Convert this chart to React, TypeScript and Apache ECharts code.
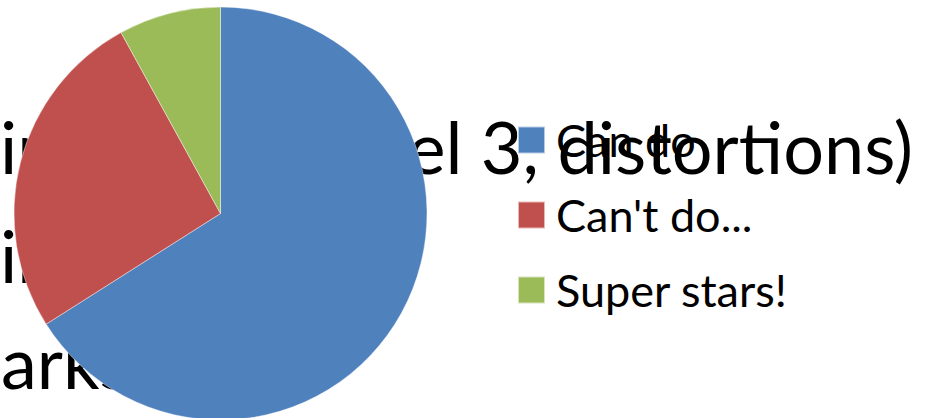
import React, { useEffect, useRef } from "react";
import * as echarts from "echarts";

const categories = ["Can do", "Can't do...", "Super stars!"];
const values = [66, 26, 8];
const colors = ["#4F81BD", "#C0504D", "#9BBB59"];
const backgroundLines = ["ir", "ir", "arks"];
const titleTail = "(level 3, distortions)";

const FONT = "Lato, 'Open Sans', sans-serif";

function bgText(x: number, y: number, text: string, align: string = "left") {
  return {
    type: "text",
    z: 0,
    x,
    y,
    style: {
      text,
      font: `72px ${FONT}`,
      fill: "#000",
      align,
      verticalAlign: "top",
    },
  };
}

export default function App() {
  const ref = useRef<HTMLDivElement>(null);
  useEffect(() => {
    document.body.style.margin = "0";
    const chart = echarts.init(ref.current!, null, { renderer: "svg" });
    chart.setOption({
      animation: false,
      backgroundColor: "#ffffff",
      graphic: [
        bgText(0, 110, backgroundLines[0]),
        bgText(0, 219, backgroundLines[1]),
        bgText(1, 325, backgroundLines[2]),
        bgText(913, 110, titleTail, "right"),
      ],
      legend: {
        orient: "vertical",
        left: 517,
        top: 117.5,
        padding: 0,
        icon: "rect",
        itemWidth: 27,
        itemHeight: 27,
        itemGap: 30,
        selectedMode: false,
        data: categories,
        textStyle: {
          fontFamily: FONT,
          fontSize: 45,
          lineHeight: 44,
          color: "#000",
          padding: [0, 0, 0, 6],
        },
      },
      series: [
        {
          type: "pie",
          center: [220.5, 213.5],
          radius: 206.5,
          startAngle: 90,
          clockwise: true,
          label: { show: false },
          labelLine: { show: false },
          emphasis: { disabled: true },
          itemStyle: { borderColor: "rgba(255,255,255,0.6)", borderWidth: 0.7 },
          data: categories.map((name, i) => ({
            name,
            value: values[i],
            itemStyle: { color: colors[i] },
          })),
        },
      ],
    });
    return () => chart.dispose();
  }, []);
  return (
    <div
      ref={ref}
      style={{ position: "absolute", left: 0, top: 0, width: 930, height: 418 }}
    />
  );
}
